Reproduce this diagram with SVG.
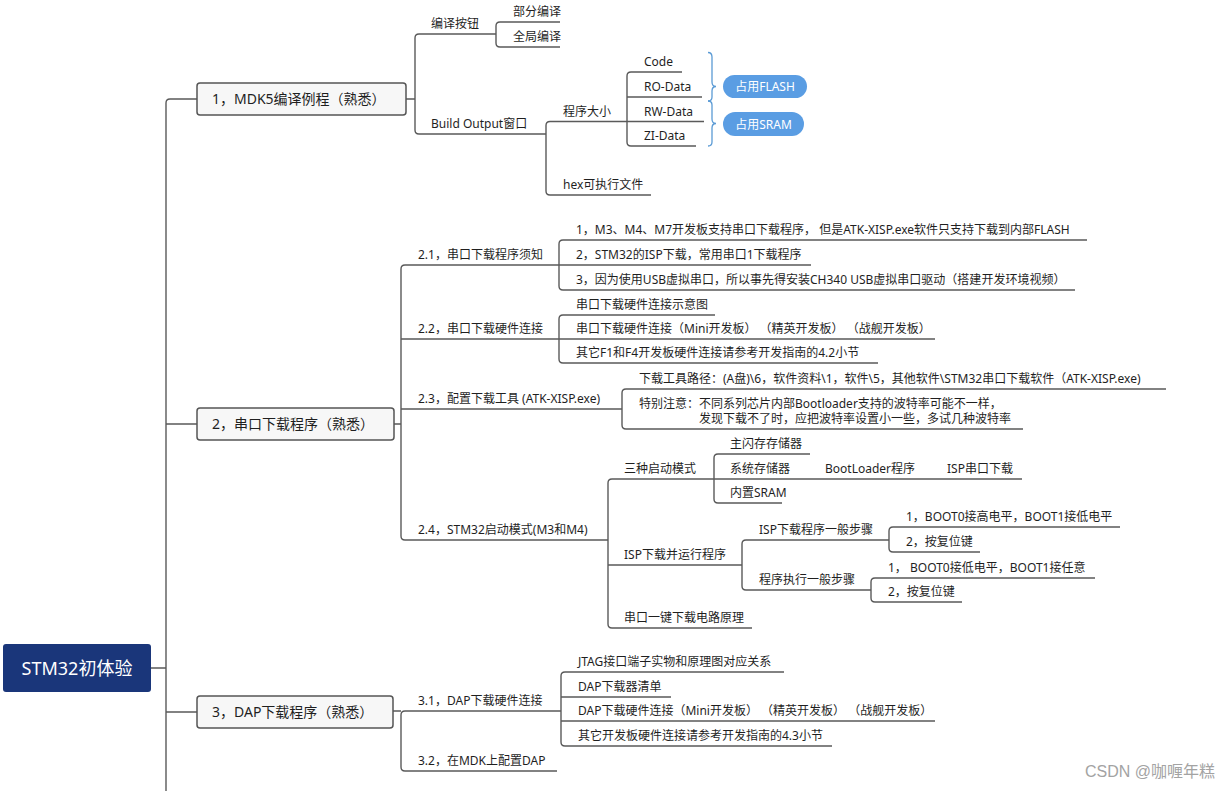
<svg xmlns="http://www.w3.org/2000/svg" width="1230" height="791" viewBox="0 0 1230 791">
<style>
.t{font-family:"Noto Sans","Noto Sans CJK SC",sans-serif;font-size:12px;fill:#1f1f1f}
.bt{font-family:"Noto Sans","Noto Sans CJK SC",sans-serif;font-size:14px;fill:#1f1f1f}
.ln{fill:none;stroke:#5a5a5a;stroke-width:1.4}
.box{fill:#f7f7f7;stroke:#555;stroke-width:1.5}
.br{fill:none;stroke:#5b9bd5;stroke-width:1.3}
.pill{fill:#5a9de3}
.pt{font-family:"Noto Sans","Noto Sans CJK SC",sans-serif;font-size:12px;fill:#fff;text-anchor:middle}
</style>
<rect width="1230" height="791" fill="#fff"/>
<g id="connectors">
<path class="ln" d="M151,668 H166 M197,99 H170 Q166,99 166,103 V791 M166,424 H197 M166,712 H197"/>
<path class="ln" d="M406,99 H415 M496,34 H419 Q415,34 415,38 V130 Q415,134 419,134 H546"/>
<path class="ln" d="M560,22 H500 Q496,22 496,26 V43 Q496,47 500,47 H560"/>
<path class="ln" d="M627,121.5 H550 Q546,121.5 546,125.5 V191 Q546,195 550,195 H651"/>
<path class="ln" d="M682,72 H631 Q627,72 627,76 V142 Q627,146 631,146 H696 M627,97 H702 M627,121.5 H704"/>
<path class="br" d="M708,52.5 Q712,52.5 712,57 V82 Q712,86.5 716,86.5 Q712,86.5 712,91 V97 Q712,101 708,101"/>
<path class="br" d="M708,101 Q712,101 712,105 V119 Q712,123.5 716,123.5 Q712,123.5 712,128 V142 Q712,146 708,146"/>
<path class="ln" d="M394,424 H401 M559,265 H405 Q401,265 401,269 V536 Q401,540 405,540 H608 M401,339 H559 M401,409 H622"/>
<path class="ln" d="M1087,240 H563 Q559,240 559,244 V286 Q559,290 563,290 H1075 M559,265 H811"/>
<path class="ln" d="M715,315 H563 Q559,315 559,319 V359 Q559,363 563,363 H878 M559,339 H935"/>
<path class="ln" d="M1166,389 H626 Q622,389 622,393 V425 Q622,429 626,429 H1023"/>
<path class="ln" d="M714,479 H612 Q608,479 608,483 V624 Q608,628 612,628 H752 M608,565 H742"/>
<path class="ln" d="M810,454 H718 Q714,454 714,458 V499 Q714,503 718,503 H782 M714,479 H1022"/>
<path class="ln" d="M889,540 H746 Q742,540 742,544 V586 Q742,590 746,590 H871"/>
<path class="ln" d="M1120,527 H893 Q889,527 889,531 V548 Q889,552 893,552 H980"/>
<path class="ln" d="M1095,578 H875 Q871,578 871,582 V598 Q871,602 875,602 H962"/>
<path class="ln" d="M393,711 H401 M561,711 H405 Q401,711 401,715 V767 Q401,771 405,771 H557"/>
<path class="ln" d="M784,672 H565 Q561,672 561,676 V742 Q561,746 565,746 H832 M561,697 H671 M561,721 H935"/>
</g>
<g id="root">
<rect x="3" y="644" width="148" height="48" rx="3" fill="#1a367a"/>
<text x="77" y="674.5" text-anchor="middle" font-family="'Noto Sans','Noto Sans CJK SC',sans-serif" font-size="18" fill="#fff">STM32初体验</text>
</g>
<g id="n1">
<rect class="box" x="197" y="83" width="209" height="32" rx="3"/>
<text class="bt" x="212" y="104">1，MDK5编译例程（熟悉）</text>
</g>
<g id="n1-1"><text class="t" x="431" y="28">编译按钮</text></g>
<g id="n1-1-1"><text class="t" x="513" y="16">部分编译</text></g>
<g id="n1-1-2"><text class="t" x="513" y="41">全局编译</text></g>
<g id="n1-2"><text class="t" x="431" y="128">Build Output窗口</text></g>
<g id="n1-2-1"><text class="t" x="563" y="115.5">程序大小</text></g>
<g id="n-code"><text class="t" x="644" y="66">Code</text></g>
<g id="n-ro"><text class="t" x="644" y="91">RO-Data</text></g>
<g id="n-rw"><text class="t" x="644" y="115.5">RW-Data</text></g>
<g id="n-zi"><text class="t" x="644" y="140">ZI-Data</text></g>
<g id="n-flash"><rect class="pill" x="723" y="75" width="84" height="23" rx="11.5"/><text class="pt" x="765" y="91">占用FLASH</text></g>
<g id="n-sram"><rect class="pill" x="723" y="112" width="81" height="24" rx="12"/><text class="pt" x="763.5" y="128.5">占用SRAM</text></g>
<g id="n1-2-2"><text class="t" x="563" y="189">hex可执行文件</text></g>
<g id="n2">
<rect class="box" x="197" y="408" width="197" height="32" rx="3"/>
<text class="bt" x="212" y="429">2，串口下载程序（熟悉）</text>
</g>
<g id="n2-1"><text class="t" x="418" y="259">2.1，串口下载程序须知</text></g>
<g id="n2-1-1"><text class="t" x="576" y="234" xml:space="preserve">1，M3、M4、M7开发板支持串口下载程序， 但是ATK-XISP.exe软件只支持下载到内部FLASH</text></g>
<g id="n2-1-2"><text class="t" x="576" y="259">2，STM32的ISP下载，常用串口1下载程序</text></g>
<g id="n2-1-3"><text class="t" x="576" y="284">3，因为使用USB虚拟串口，所以事先得安装CH340 USB虚拟串口驱动（搭建开发环境视频）</text></g>
<g id="n2-2"><text class="t" x="418" y="333">2.2，串口下载硬件连接</text></g>
<g id="n2-2-1"><text class="t" x="576" y="309">串口下载硬件连接示意图</text></g>
<g id="n2-2-2"><text class="t" x="576" y="333">串口下载硬件连接（Mini开发板） （精英开发板） （战舰开发板）</text></g>
<g id="n2-2-3"><text class="t" x="576" y="357">其它F1和F4开发板硬件连接请参考开发指南的4.2小节</text></g>
<g id="n2-3"><text class="t" x="418" y="403">2.3，配置下载工具 (ATK-XISP.exe)</text></g>
<g id="n2-3-1"><text class="t" x="639" y="383">下载工具路径：(A盘)\6，软件资料\1，软件\5，其他软件\STM32串口下载软件（ATK-XISP.exe)</text></g>
<g id="n2-3-2"><text class="t" x="639" y="408">特别注意：不同系列芯片内部Bootloader支持的波特率可能不一样，</text><text class="t" x="699" y="423">发现下载不了时，应把波特率设置小一些，多试几种波特率</text></g>
<g id="n2-4"><text class="t" x="418" y="534">2.4，STM32启动模式(M3和M4)</text></g>
<g id="n2-4-1"><text class="t" x="624" y="473">三种启动模式</text></g>
<g id="n-main"><text class="t" x="730" y="448">主闪存存储器</text></g>
<g id="n-sys"><text class="t" x="730" y="473">系统存储器</text></g>
<g id="n-boot"><text class="t" x="825" y="473">BootLoader程序</text></g>
<g id="n-ispdl"><text class="t" x="947" y="473">ISP串口下载</text></g>
<g id="n-sram2"><text class="t" x="730" y="497">内置SRAM</text></g>
<g id="n2-4-2"><text class="t" x="624" y="559">ISP下载并运行程序</text></g>
<g id="n-isp-steps"><text class="t" x="759" y="534">ISP下载程序一般步骤</text></g>
<g id="n-isp-s1"><text class="t" x="906" y="521">1，BOOT0接高电平，BOOT1接低电平</text></g>
<g id="n-isp-s2"><text class="t" x="906" y="546">2，按复位键</text></g>
<g id="n-run-steps"><text class="t" x="759" y="584">程序执行一般步骤</text></g>
<g id="n-run-s1"><text class="t" x="888" y="572" xml:space="preserve">1， BOOT0接低电平，BOOT1接任意</text></g>
<g id="n-run-s2"><text class="t" x="888" y="596">2，按复位键</text></g>
<g id="n2-4-3"><text class="t" x="624" y="622">串口一键下载电路原理</text></g>
<g id="n3">
<rect class="box" x="197" y="696" width="196" height="32" rx="3"/>
<text class="bt" x="212" y="717">3，DAP下载程序（熟悉）</text>
</g>
<g id="n3-1"><text class="t" x="418" y="705">3.1，DAP下载硬件连接</text></g>
<g id="n3-1-1"><text class="t" x="578" y="666">JTAG接口端子实物和原理图对应关系</text></g>
<g id="n3-1-2"><text class="t" x="578" y="691">DAP下载器清单</text></g>
<g id="n3-1-3"><text class="t" x="578" y="715">DAP下载硬件连接（Mini开发板） （精英开发板） （战舰开发板）</text></g>
<g id="n3-1-4"><text class="t" x="578" y="740">其它开发板硬件连接请参考开发指南的4.3小节</text></g>
<g id="n3-2"><text class="t" x="418" y="765">3.2，在MDK上配置DAP</text></g>
<text x="1215" y="777" text-anchor="end" font-family="'Liberation Sans','Noto Sans CJK SC',sans-serif" font-size="16" fill="#a3a3a3">CSDN @咖喱年糕</text>
</svg>
